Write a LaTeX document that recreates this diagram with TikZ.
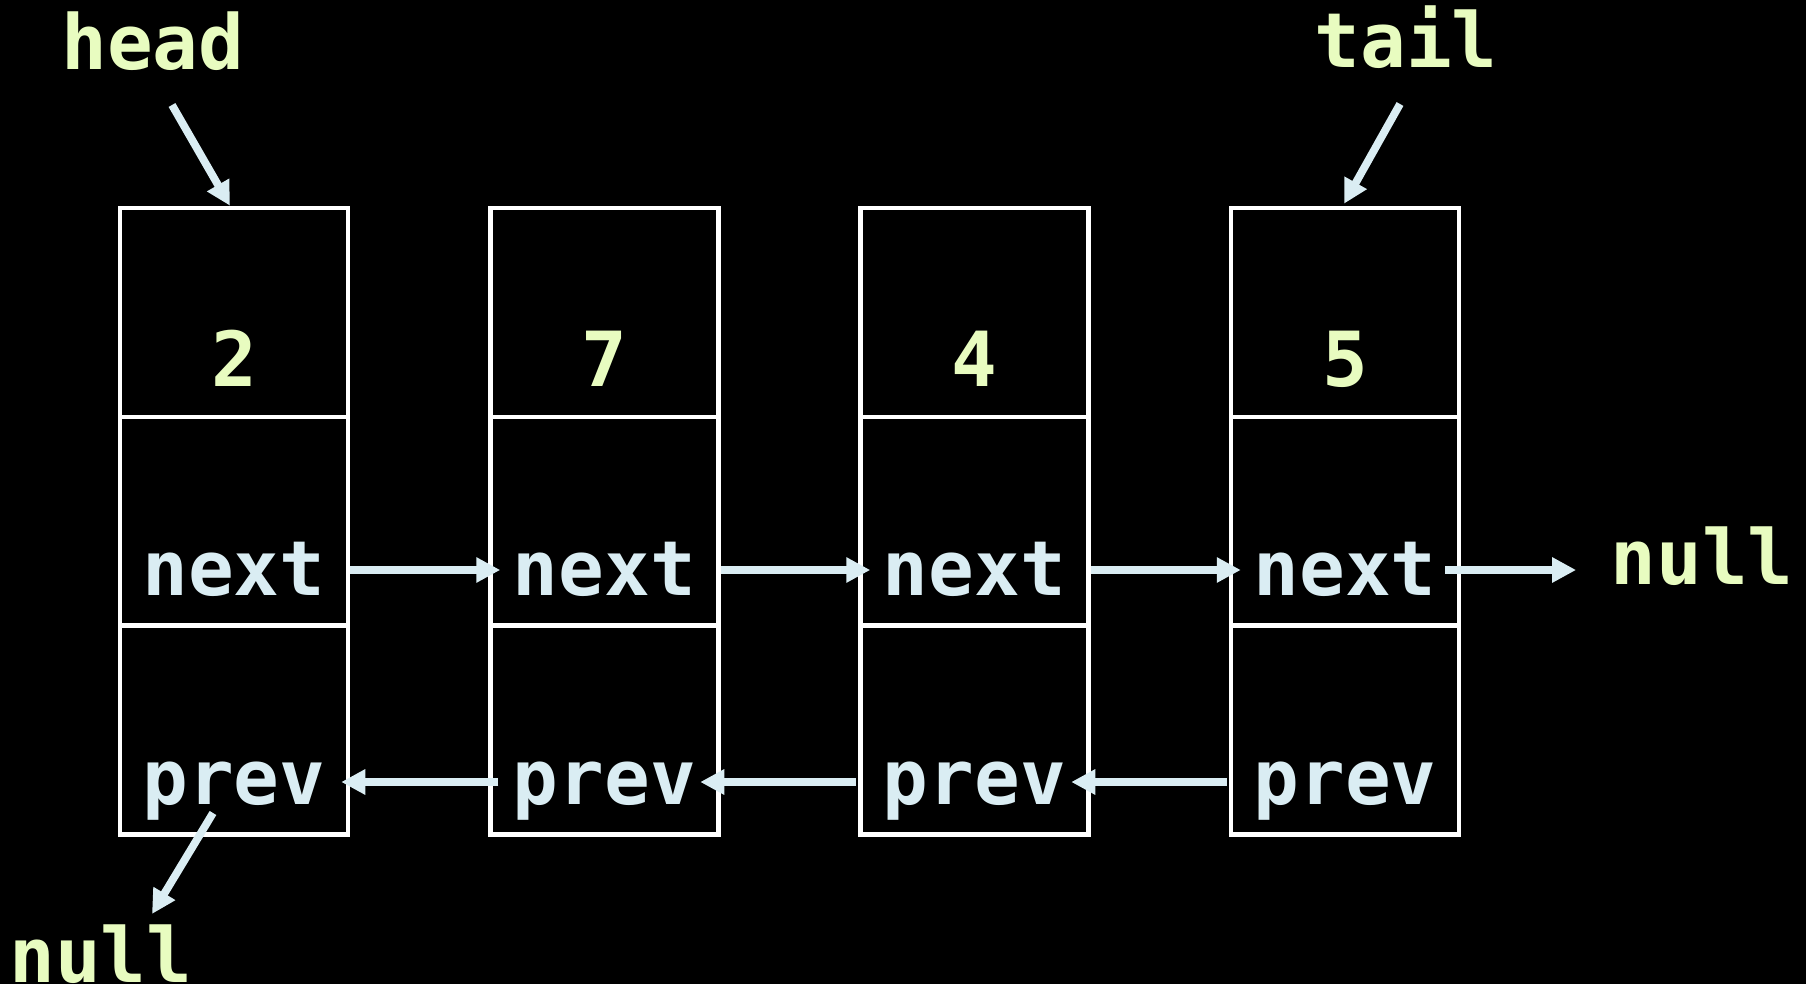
\documentclass[tikz,border=0pt]{standalone}
\usepackage{fontspec}
\setmonofont{DejaVu Sans Mono}
\usetikzlibrary{arrows.meta}
\definecolor{ylw}{HTML}{E8FCC0}
\definecolor{lblue}{HTML}{DAEDF3}
\tikzset{
  cell/.style={draw=white, line width=2.25pt, minimum width=114pt, minimum height=104.5pt, inner sep=0pt},
  txt/.style={font=\ttfamily\bfseries\fontsize{38pt}{40pt}\selectfont, inner sep=0pt, anchor=base},
  val/.style={txt, text=ylw},
  fld/.style={txt, text=lblue},
  arr/.style={draw=lblue, line width=3.9pt, -{Triangle[length=12pt,width=12pt]}}
}
\begin{document}
\begin{tikzpicture}[x=0.5pt,y=-0.5pt]
\fill[black] (0,0) rectangle (1806,984);
\useasboundingbox (0,0) rectangle (1806,984);
% cells
\foreach \i/\cx/\v in {1/234/2, 2/604.5/7, 3/974.5/4, 4/1345/5}{
  \node[cell] (c\i v) at (\cx,312.5) {};
  \node[cell] (c\i n) at (\cx,521.5) {};
  \node[cell] (c\i p) at (\cx,730) {};
  \node[val] (v\i) at ([yshift=16.5pt]c\i v.south) {\v};
  \node[fld] (n\i) at ([yshift=16.5pt]c\i n.south) {next};
  \node[fld] (p\i) at ([yshift=16pt]c\i p.south) {prev};
}
% labels
\node[val] (head) at (153,70) {head};
\node[val] (tail) at (1406,68) {tail};
\node[val] (nullR) at (1702,584) {null};
\node[val] (nullL) at (101,982) {null};
% head / tail arrows
\draw[arr] ([xshift=9.5pt,yshift=-17.5pt]head.base) -- ([xshift=-2pt]c1v.north);
\draw[arr] ([xshift=-3pt,yshift=-18pt]tail.base) -- ([xshift=-0.5pt,yshift=1pt]c4v.north);
% next arrows
\draw[arr] ([yshift=-24.25pt]c1n.east) -- ([xshift=6pt,yshift=-24.25pt]c2n.west);
\draw[arr] ([yshift=-24.25pt]c2n.east) -- ([xshift=6pt,yshift=-24.25pt]c3n.west);
\draw[arr] ([yshift=-24.25pt]c3n.east) -- ([xshift=6pt,yshift=-24.25pt]c4n.west);
\draw[arr] ([xshift=-8pt,yshift=-24.25pt]c4n.east) coordinate (s4) -- ([xshift=-17pt]s4 -| nullR.west);
% prev arrows
\draw[arr] ([xshift=5pt,yshift=-26pt]c2p.west) -- ([xshift=-4.5pt,yshift=-26pt]c1p.east);
\draw[arr] ([xshift=-1.25pt,yshift=-26pt]c3p.west) -- ([xshift=-10.25pt,yshift=-26pt]c2p.east);
\draw[arr] ([xshift=-1pt,yshift=-26pt]c4p.west) -- ([xshift=-9.75pt,yshift=-26pt]c3p.east);
% prev null
\draw[arr] ([xshift=-10.5pt,yshift=-41.5pt]c1p.center) -- ([xshift=25.5pt,yshift=34pt]nullL.base);
\end{tikzpicture}
\end{document}
